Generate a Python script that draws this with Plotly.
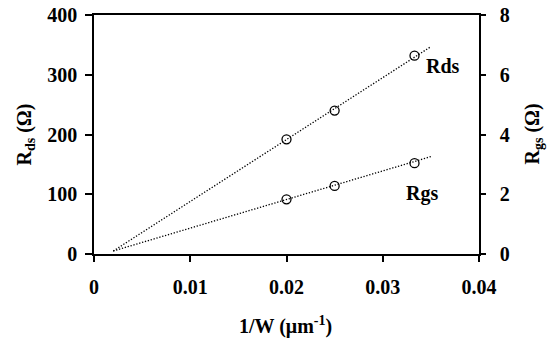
import plotly.graph_objects as go

# Data
inv_w = [0.02, 0.025, 0.0333]
rds = [192, 240, 332]
rgs = [1.83, 2.28, 3.04]
fit_x = [0.002, 0.035]
rds_fit = [5, 347]
rgs_fit = [0.1, 3.26]

x_ticks = [0, 0.01, 0.02, 0.03, 0.04]
x_ticklabels = ["0", "0.01", "0.02", "0.03", "0.04"]
y_ticks = [0, 100, 200, 300, 400]
y2_ticks = [0, 2, 4, 6, 8]

FONT = "Liberation Serif"
W, H = 555, 345
L, R, T, B = 94, 76, 15, 91
pw, ph = W - L - R, H - T - B


def px2paper(px, py):
    return (px - L) / pw, (H - B - py) / ph


fig = go.Figure()

dotline = dict(color="black", width=1.3, dash="1.3px,1.7px")
fig.add_trace(go.Scatter(x=fit_x, y=rds_fit, mode="lines", line=dotline, showlegend=False))
fig.add_trace(go.Scatter(x=fit_x, y=rgs_fit, mode="lines", yaxis="y2", line=dotline, showlegend=False))
fig.add_trace(go.Scatter(x=inv_w, y=rds, mode="markers",
                         marker=dict(symbol="circle-open", size=9, color="black", line=dict(width=1.3)),
                         showlegend=False))
fig.add_trace(go.Scatter(x=inv_w, y=rgs, mode="markers", yaxis="y2",
                         marker=dict(symbol="circle-open", size=9, color="black", line=dict(width=1.3)),
                         showlegend=False))

tickfont = dict(family=FONT, size=20, color="black", weight="bold")
tfont = dict(family=FONT, size=20, color="black", weight="bold")

ax_common = dict(showgrid=False, zeroline=False, showline=True, linecolor="black", linewidth=1.5,
                 ticks="outside", tickwidth=1.5, tickcolor="black", tickfont=tickfont, automargin=False)

lx, ly = px2paper(25, (T + H - B) / 2)
rx, ry = px2paper(533, (T + H - B) / 2)
bx, by = px2paper(285, 325)

fig.update_layout(
    width=W, height=H,
    margin=dict(l=L, r=R, t=T, b=B, autoexpand=False),
    plot_bgcolor="white", paper_bgcolor="white",
    xaxis=dict(range=[0, 0.04], tickvals=x_ticks, ticktext=x_ticklabels, mirror=True,
               ticklen=6, ticklabelstandoff=8, **ax_common),
    yaxis=dict(range=[0, 400], tickvals=y_ticks, ticklen=7, ticklabelstandoff=4, **ax_common),
    yaxis2=dict(range=[0, 8], tickvals=y2_ticks, overlaying="y", side="right",
                ticklen=5, ticklabelstandoff=10, **ax_common),
    annotations=[
        dict(text="R<sub>ds</sub> (Ω)", x=lx, y=ly, xref="paper", yref="paper",
             xanchor="center", yanchor="middle", showarrow=False, textangle=-90, font=tfont),
        dict(text="R<sub>gs</sub> (Ω)", x=rx, y=ry, xref="paper", yref="paper",
             xanchor="center", yanchor="middle", showarrow=False, textangle=-90, font=tfont),
        dict(text="1/W (μm<sup>-1</sup>)", x=bx, y=by, xref="paper", yref="paper",
             xanchor="center", yanchor="middle", showarrow=False, font=tfont),
        dict(text="Rds", x=0.0363, y=314, xref="x", yref="y", showarrow=False,
             xanchor="center", yanchor="middle", font=tfont),
        dict(text="Rgs", x=0.0341, y=2.04, xref="x", yref="y2", showarrow=False,
             xanchor="center", yanchor="middle", font=tfont),
    ],
)

fig.write_html("out.html")
